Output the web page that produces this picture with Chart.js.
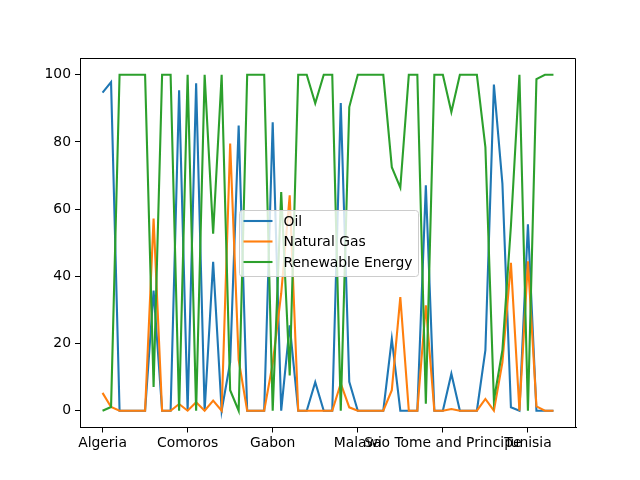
<!DOCTYPE html>
<html>
<head>
<meta charset="utf-8">
<script src="https://cdn.jsdelivr.net/npm/chart.js@4/dist/chart.umd.min.js"></script>
<style>
  html, body { margin: 0; padding: 0; background: #fff; }
</style>
</head>
<body>
<canvas id="chart" width="640" height="480"></canvas>
<script>
const countries = [
  'Algeria', 'Angola', 'Benin', 'Botswana', 'Burkina Faso', 'Burundi', 'Cameroon', 'Cape Verde',
  'Central African Republic', 'Chad', 'Comoros', 'Congo', "Cote d'Ivoire",
  'Democratic Republic of Congo', 'Djibouti', 'Egypt', 'Equatorial Guinea', 'Eritrea', 'Eswatini',
  'Ethiopia', 'Gabon', 'Gambia', 'Ghana', 'Guinea', 'Guinea-Bissau', 'Kenya', 'Lesotho', 'Liberia',
  'Libya', 'Madagascar', 'Malawi', 'Mali', 'Mauritania', 'Mauritius', 'Morocco', 'Mozambique',
  'Namibia', 'Niger', 'Nigeria', 'Rwanda', 'Sao Tome and Principe', 'Senegal', 'Seychelles',
  'Sierra Leone', 'Somalia', 'South Africa', 'South Sudan', 'Sudan', 'Tanzania', 'Togo', 'Tunisia',
  'Uganda', 'Zambia', 'Zimbabwe'
];

const oil = [
  94.7, 97.8, 0, 0, 0, 0, 35.8, 0, 0, 95.4, 0, 97.5, 0,
  44.3, 0, 14.4, 84.9, 0, 0, 0, 85.9, 0, 25.4, 0, 0, 8.5, 0, 0,
  91.6, 8.6, 0, 0, 0, 0, 21.4, 0, 0, 0, 67.1, 0, 0, 11.0, 0,
  0, 0, 18.0, 97.1, 67.6, 1.0, 0, 55.5, 0, 0, 0
];
const gas = [
  5.3, 1.1, 0, 0, 0, 0, 57.2, 0, 0, 2.0, 0, 2.5, 0,
  3.0, 0, 79.5, 15.1, 0, 0, 0, 14.1, 34.9, 64.1, 0, 0, 0, 0, 0,
  8.1, 1.0, 0, 0, 0, 0, 6.1, 33.8, 0, 0, 31.4, 0, 0, 0.5, 0,
  0, 0, 3.5, 0, 14.4, 44.0, 0, 44.5, 1.3, 0, 0
];
const renewable = [
  0, 1.1, 100, 100, 100, 100, 7.1, 100, 100, 0, 100, 0, 100,
  52.7, 100, 6.1, 0, 100, 100, 100, 0, 65.1, 10.5, 100, 100, 91.5, 100, 100,
  0, 90.4, 100, 100, 100, 100, 72.5, 66.4, 100, 100, 2.1, 100, 100, 88.9, 100,
  100, 100, 78.5, 3.1, 18.0, 55.0, 100, 0, 98.7, 100, 100
];

const xTicks = [0, 10, 20, 30, 40, 50];
const yTicks = [0, 20, 40, 60, 80, 100];

const seriesNames = ['Oil', 'Natural Gas', 'Renewable Energy'];
const seriesColors = ['#1f77b4', '#ff7f0e', '#2ca02c'];

const tickFont = { family: 'DejaVu Sans', size: 13.9 };

function toPoints(values) {
  return values.map((v, i) => ({ x: i, y: v }));
}

// top and right spines plus a matplotlib style legend at the "best" spot
const boxLegend = {
  id: 'boxLegend',
  afterDatasetsDraw(chart) {
    const ctx = chart.ctx;
    const a = chart.chartArea;
    const top = Math.round(a.top) + 0.5;
    const right = Math.round(a.right) - 0.5;
    ctx.save();
    ctx.strokeStyle = '#000000';
    ctx.lineWidth = 1;
    ctx.lineCap = 'butt';
    ctx.beginPath();
    ctx.moveTo(a.left, top);
    ctx.lineTo(right, top);
    ctx.lineTo(right, a.bottom);
    ctx.stroke();

    const x = 239.5, y = 210.5, w = 179, h = 66, r = 3;
    ctx.beginPath();
    ctx.moveTo(x + r, y);
    ctx.arcTo(x + w, y, x + w, y + h, r);
    ctx.arcTo(x + w, y + h, x, y + h, r);
    ctx.arcTo(x, y + h, x, y, r);
    ctx.arcTo(x, y, x + w, y, r);
    ctx.closePath();
    ctx.fillStyle = 'rgba(255,255,255,0.8)';
    ctx.fill();
    ctx.strokeStyle = '#cccccc';
    ctx.stroke();
    ctx.font = '13.9px "DejaVu Sans"';
    ctx.textBaseline = 'middle';
    ctx.fillStyle = '#000';
    seriesNames.forEach((name, i) => {
      const ly = 221 + i * 20.5;
      ctx.beginPath();
      ctx.moveTo(243.5, ly);
      ctx.lineTo(272.5, ly);
      ctx.strokeStyle = seriesColors[i];
      ctx.lineWidth = 2.1;
      ctx.stroke();
      ctx.fillText(name, 283.5, ly + 1);
    });
    ctx.restore();
  }
};

new Chart(document.getElementById('chart'), {
  type: 'line',
  data: {
    datasets: [
      { label: seriesNames[0], data: toPoints(oil), borderColor: seriesColors[0], order: 2 },
      { label: seriesNames[1], data: toPoints(gas), borderColor: seriesColors[1], order: 1 },
      { label: seriesNames[2], data: toPoints(renewable), borderColor: seriesColors[2], order: 0 }
    ]
  },
  options: {
    responsive: false,
    animation: false,
    devicePixelRatio: 1,
    layout: { padding: { left: 0, right: 64, top: 58, bottom: 0 } },
    elements: {
      line: { borderWidth: 2.1, tension: 0, fill: false },
      point: { radius: 0 }
    },
    plugins: {
      legend: { display: false },
      tooltip: { enabled: false }
    },
    scales: {
      x: {
        type: 'linear',
        min: -2.65,
        max: 55.65,
        afterBuildTicks: (scale) => { scale.ticks = xTicks.map(v => ({ value: v })); },
        afterFit: (scale) => { scale.height = 52.5; },
        grid: { drawOnChartArea: false, drawTicks: true, tickLength: 5, color: '#000' },
        border: { display: true, color: '#000' },
        ticks: {
          font: tickFont,
          color: '#000',
          padding: 3,
          maxRotation: 0,
          autoSkip: false,
          callback: (v) => countries[v]
        }
      },
      y: {
        type: 'linear',
        min: -5,
        max: 105,
        afterBuildTicks: (scale) => { scale.ticks = yTicks.map(v => ({ value: v })); },
        afterFit: (scale) => { scale.width = 80; },
        grid: { drawOnChartArea: false, drawTicks: true, tickLength: 5, color: '#000' },
        border: { display: true, color: '#000' },
        ticks: { font: tickFont, color: '#000', padding: 4 }
      }
    }
  },
  plugins: [boxLegend]
});
</script>
</body>
</html>
